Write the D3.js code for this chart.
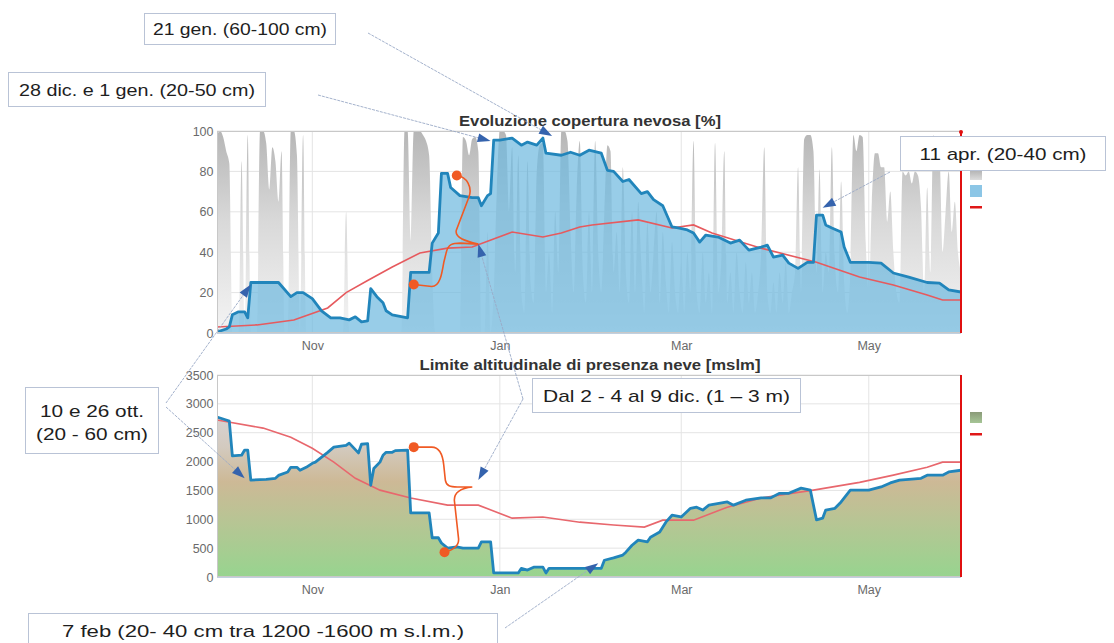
<!DOCTYPE html>
<html>
<head>
<meta charset="utf-8">
<script src="https://cdn.jsdelivr.net/npm/d3@7"></script>
<style>
  body { margin: 0; background: #fff; }
  svg { display: block; font-family: "Liberation Sans", Arial, sans-serif; }
</style>
</head>
<body>
<svg id="chart" width="1114" height="643"></svg>
<script>
// ---- Season 2017/18 data (dates as MM-DD; Oct-Dec = 2017, Jan-May = 2018) ----
const monthTicks = ["11-01", "01-01", "03-01", "05-01"];
const coverTicks = [0, 20, 40, 60, 80, 100];
const altTicks = [0, 500, 1000, 1500, 2000, 2500, 3000, 3500];
const panelTitles = ["Evoluzione copertura nevosa [%]", "Limite altitudinale di presenza neve [mslm]"];

// cloud cover [%]
const cloudCover = [
  ["10-01",98],["10-02",100],["10-03",97],["10-04",90],["10-05",84],["10-06",0],["10-07",0],["10-08",0],
  ["10-09",85],["10-10",0],["10-11",98],["10-12",0],["10-13",0],["10-14",0],["10-15",100],["10-16",100],
  ["10-17",94],["10-18",71],["10-19",92],["10-20",85],["10-21",65],["10-22",90],["10-23",0],["10-24",0],
  ["10-25",100],["10-26",100],["10-27",88],["10-28",0],["10-29",98],["10-30",0],["11-10",0],["11-11",0],
  ["11-12",60],["11-13",0],["11-30",0],["12-01",100],["12-02",100],["12-03",45],["12-04",100],["12-05",100],
  ["12-06",100],["12-07",98],["12-08",95],["12-09",88],["12-10",30],["12-11",0],["12-19",0],["12-20",97],
  ["12-21",95],["12-22",88],["12-23",96],["12-24",97],["12-25",90],["12-26",0],["12-27",0],["12-28",50],
  ["12-29",0],["12-30",20],["12-31",70],["01-01",100],["01-02",100],["01-03",98],["01-04",60],["01-05",92],
  ["01-06",30],["01-07",88],["01-08",20],["01-09",10],["01-10",85],["01-11",25],["01-12",15],["01-13",80],
  ["01-14",93],["01-15",94],["01-16",20],["01-17",40],["01-18",10],["01-19",60],["01-20",30],["01-21",100],
  ["01-22",100],["01-23",95],["01-24",50],["01-25",20],["01-26",70],["01-27",95],["01-28",30],["01-29",15],
  ["01-30",60],["01-31",20],["02-01",95],["02-02",40],["02-03",20],["02-04",60],["02-05",93],["02-06",90],
  ["02-07",30],["02-08",50],["02-09",20],["02-10",82],["02-11",30],["02-12",15],["02-13",60],["02-14",20],
  ["02-15",65],["02-16",35],["02-17",10],["02-18",55],["02-19",20],["02-20",40],["02-21",60],["02-22",15],
  ["02-23",50],["02-24",25],["02-25",10],["02-26",45],["02-27",20],["02-28",10],["03-01",35],["03-02",10],
  ["03-03",40],["03-04",20],["03-05",95],["03-06",20],["03-07",10],["03-08",40],["03-09",15],["03-10",30],
  ["03-11",10],["03-12",94],["03-13",20],["03-14",35],["03-15",90],["03-16",15],["03-17",30],["03-18",10],
  ["03-19",40],["03-20",20],["03-21",10],["03-22",35],["03-23",15],["03-24",30],["03-25",10],["03-26",20],
  ["03-27",40],["03-28",92],["03-29",20],["03-30",10],["03-31",25],["04-01",10],["04-02",30],["04-03",15],
  ["04-04",35],["04-05",10],["04-06",20],["04-07",30],["04-08",82],["04-09",20],["04-10",96],["04-11",98],
  ["04-12",98],["04-13",90],["04-14",30],["04-15",81],["04-16",20],["04-17",40],["04-18",30],["04-19",92],
  ["04-20",35],["04-21",20],["04-22",75],["04-23",25],["04-24",10],["04-25",30],["04-26",98],["04-27",90],
  ["04-28",98],["04-29",97],["04-30",45],["05-01",20],["05-02",65],["05-03",89],["05-04",89],["05-05",82],
  ["05-06",82],["05-07",55],["05-08",70],["05-09",40],["05-10",20],["05-11",15],["05-12",80],["05-13",78],
  ["05-14",80],["05-15",74],["05-16",80],["05-17",78],["05-18",62],["05-19",20],["05-20",72],["05-21",30],
  ["05-22",98],["05-23",87],["05-24",87],["05-25",40],["05-26",60],["05-27",80],["05-28",50],["05-29",65],
  ["05-30",40],["05-31",30]
];

// snow-covered area [%]
const snowCover = [
  ["10-01",0.5],["10-04",2],["10-05",3],["10-06",9],["10-08",10.5],["10-10",10.5],["10-11",7.5],["10-12",25],
  ["10-21",25],["10-25",18],["10-27",20],["10-29",20],["11-01",17],["11-04",11],["11-07",7.5],["11-10",7.5],
  ["11-13",6.5],["11-15",8],["11-17",5.5],["11-19",6],["11-20",22],["11-22",18],["11-24",15],["11-25",11],
  ["11-27",9],["12-02",7.5],["12-03",30],["12-09",30],["12-10",44.5],["12-12",49.5],["12-13",79],["12-15",79],
  ["12-16",72],["12-19",68],["12-23",67],["12-25",67],["12-26",63],["12-28",68],["12-29",69],["12-30",95.5],
  ["01-01",95.5],["01-05",96.5],["01-08",93],["01-10",94.5],["01-13",93],["01-15",96.5],["01-16",89],
  ["01-21",88],["01-24",89.5],["01-27",88],["01-30",90.5],["02-03",89],["02-05",80.5],["02-07",80],
  ["02-10",75],["02-12",76],["02-16",69],["02-18",70],["02-20",66],["02-23",63],["02-26",52.5],["02-28",52],
  ["03-03",51],["03-05",49.5],["03-07",45],["03-09",48.5],["03-13",47.5],["03-17",44.5],["03-20",46],
  ["03-23",41],["03-27",42.5],["03-29",43.5],["03-31",37.6],["04-03",38.6],["04-05",34.6],["04-08",32],
  ["04-11",35],["04-13",35],["04-14",58.4],["04-16",58.4],["04-17",53.5],["04-19",52],["04-22",50],
  ["04-23",42.6],["04-25",35],["05-01",35],["05-05",34.6],["05-09",29.7],["05-14",27.7],["05-20",25],
  ["05-24",24.7],["05-27",21.3],["05-31",20.3]
];

// long-term mean snow-covered area [%]
const snowCoverMean = [
  ["10-01",3],["10-14",4],["10-26",6.4],["11-06",12.4],["11-12",20],["11-19",26],["11-27",32.7],["12-06",39.6],
  ["12-15",42],["12-23",42.6],["01-05",50],["01-15",47.5],["01-21",49.5],["01-27",52.5],["01-31",53.5],
  ["02-15",56],["02-26",52],["03-05",53.5],["03-11",49.5],["03-27",42],["04-14",35],["04-28",27.7],
  ["05-09",23.8],["05-20",18.8],["05-25",16.3],["05-31",16.3]
];

// snow line altitude [m a.s.l.]
const snowLine = [
  ["10-01",2770],["10-04",2720],["10-05",2700],["10-06",2100],["10-09",2110],["10-10",2200],["10-11",2200],
  ["10-12",1680],["10-17",1690],["10-20",1710],["10-21",1760],["10-24",1820],["10-25",1900],["10-27",1900],
  ["10-28",1850],["10-30",1900],["11-01",1970],["11-02",1990],["11-06",2160],["11-08",2250],["11-12",2280],
  ["11-13",2320],["11-16",2150],["11-17",2300],["11-19",2310],["11-20",1590],["11-21",1880],["11-23",1990],
  ["11-24",2110],["11-25",2160],["11-27",2160],["11-28",2190],["12-02",2200],["12-03",1110],["12-09",1110],
  ["12-10",680],["12-12",680],["12-13",590],["12-15",500],["12-18",520],["12-20",500],["12-25",500],
  ["12-26",610],["12-29",610],["12-30",70],["01-07",70],["01-08",150],["01-10",120],["01-12",170],
  ["01-15",170],["01-16",70],["01-17",150],["01-27",150],["02-03",150],["02-04",290],["02-07",330],
  ["02-10",380],["02-11",430],["02-13",550],["02-15",640],["02-18",610],["02-19",690],["02-22",780],
  ["02-24",950],["02-26",1070],["03-01",1040],["03-04",1190],["03-06",1210],["03-08",1160],["03-10",1245],
  ["03-16",1300],["03-18",1245],["03-22",1330],["03-27",1370],["03-30",1370],["04-02",1450],["04-05",1450],
  ["04-09",1540],["04-12",1505],["04-14",990],["04-16",1020],["04-17",1160],["04-20",1190],["04-22",1300],
  ["04-25",1505],["05-01",1505],["05-05",1560],["05-08",1630],["05-11",1680],["05-18",1710],["05-20",1765],
  ["05-25",1765],["05-27",1820],["05-31",1850]
];

// long-term mean snow line altitude [m a.s.l.]
const snowLineMean = [
  ["10-01",2720],["10-16",2580],["10-25",2420],["11-01",2230],["11-08",1990],["11-15",1710],["11-23",1505],
  ["12-03",1370],["12-15",1245],["12-25",1245],["01-05",1020],["01-15",1040],["01-27",950],["02-07",900],
  ["02-17",865],["02-23",985],["03-05",985],["03-16",1210],["03-27",1370],["04-13",1505],["04-28",1640],
  ["05-09",1765],["05-20",1900],["05-25",1990],["05-31",1990]
];

// event notes: text lines and the point each arrow points at [date, value, panel]
const noteTexts = [
  ["21 gen. (60-100 cm)"],
  ["28 dic. e 1 gen. (20-50 cm)"],
  ["11 apr. (20-40 cm)"],
  ["10 e 26 ott.", "(20 - 60 cm)"],
  ["Dal 2 - 4 al 9 dic. (1 \u2013 3 m)"],
  ["7 feb (20- 40 cm tra 1200 -1600 m s.l.m.)"]
];
const noteTargets = [
  [["01-18", 97.5, 0]],
  [["12-29", 95, 0]],
  [["04-16", 62, 0]],
  [["10-12", 24, 0], ["10-10", 1710, 1]],
  [["12-25", 44, 0], ["12-25", 1680, 1]],
  [["02-02", 240, 1]]
];
// ends of the bracketed 2-9 Dec event [date, value] per panel
const braceEnds = [
  [["12-04", 24], ["12-18", 78]],
  [["12-04", 2250], ["12-14", 430]]
];

// ---- helpers ----
const parseDay = s => {
  const [m, d] = s.split("-").map(Number);
  return new Date(m >= 9 ? 2017 : 2018, m - 1, d);
};

const svg = d3.select("#chart");
const defs = svg.append("defs");

const plotL = 217, plotR = 961;
const panels = [
  { top: 131, bottom: 333, domain: [0, 100], ticks: coverTicks, titleY: 126, titleW: 262 },
  { top: 375, bottom: 577, domain: [0, 3500], ticks: altTicks, titleY: 370, titleW: 341 }
];

const x = d3.scaleTime()
  .domain([new Date(2017, 9, 1), new Date(2018, 4, 31)])
  .range([plotL, plotR]);

panels.forEach(p => {
  p.y = d3.scaleLinear().domain(p.domain).range([p.bottom, p.top]);
});

// gradients
const gGray = defs.append("linearGradient").attr("id", "cloudFill")
  .attr("gradientUnits", "userSpaceOnUse").attr("x1", 0).attr("x2", 0)
  .attr("y1", panels[0].top).attr("y2", panels[0].bottom);
gGray.append("stop").attr("offset", 0).attr("stop-color", "#b6b6b6");
gGray.append("stop").attr("offset", 0.45).attr("stop-color", "#d9d9d9");
gGray.append("stop").attr("offset", 1).attr("stop-color", "#f4f4f4");

const yA = panels[1].y;
const gAlt = defs.append("linearGradient").attr("id", "altFill")
  .attr("gradientUnits", "userSpaceOnUse").attr("x1", 0).attr("x2", 0)
  .attr("y1", yA(3000)).attr("y2", yA(0));
[[0, "#d9d6da"], [0.25, "#d3cabf"], [0.45, "#cdb996"], [0.68, "#b7c594"], [1, "#97d48f"]]
  .forEach(([o, c]) => gAlt.append("stop").attr("offset", o).attr("stop-color", c));

const gLegGray = defs.append("linearGradient").attr("id", "legGray").attr("x1", 0).attr("x2", 0).attr("y1", 0).attr("y2", 1);
gLegGray.append("stop").attr("offset", 0).attr("stop-color", "#a9a9a9");
gLegGray.append("stop").attr("offset", 1).attr("stop-color", "#dcdcdc");
const gLegAlt = defs.append("linearGradient").attr("id", "legAlt").attr("x1", 0).attr("x2", 0).attr("y1", 0).attr("y2", 1);
gLegAlt.append("stop").attr("offset", 0).attr("stop-color", "#8a9a78");
gLegAlt.append("stop").attr("offset", 1).attr("stop-color", "#a6c596");

panels.forEach((p, i) => {
  defs.append("clipPath").attr("id", "clip" + i)
    .append("rect").attr("x", plotL).attr("y", p.top).attr("width", plotR - plotL).attr("height", p.bottom - p.top);
});

const axisFont = sel => sel.attr("fill", "#6a6a6a").style("font-size", "12.5px")
  .style("font-family", "'Liberation Sans', Arial, sans-serif");

// ---- panel frames, grid and axes ----
panels.forEach((p, i) => {
  const g = svg.append("g");
  // horizontal grid
  g.append("g").selectAll("line").data(p.ticks).join("line")
    .attr("x1", plotL).attr("x2", plotR)
    .attr("y1", d => p.y(d)).attr("y2", d => p.y(d))
    .attr("stroke", "#e4e4e4").attr("stroke-width", 1);
  // vertical grid at month ticks
  g.append("g").selectAll("line").data(monthTicks).join("line")
    .attr("x1", d => x(parseDay(d))).attr("x2", d => x(parseDay(d)))
    .attr("y1", p.top).attr("y2", p.bottom)
    .attr("stroke", "#e4e4e4").attr("stroke-width", 1);

  // y axis labels
  const yAxis = d3.axisLeft(p.y).tickValues(p.ticks).tickFormat(d3.format("d")).tickSize(0).tickPadding(3);
  const ya = svg.append("g").attr("transform", `translate(${plotL - 0.5},0)`).call(yAxis);
  ya.select(".domain").remove();
  ya.selectAll("text").call(axisFont);

  // x axis labels
  const xAxis = d3.axisBottom(x).tickValues(monthTicks.map(parseDay))
    .tickFormat(d3.timeFormat("%b")).tickSize(0).tickPadding(8);
  const xa = svg.append("g").attr("transform", `translate(0,${p.bottom})`).call(xAxis);
  xa.select(".domain").remove();
  xa.selectAll("text").call(axisFont);

  // title
  svg.append("text").attr("x", 590).attr("y", p.titleY).attr("text-anchor", "middle")
    .attr("fill", "#333").style("font-size", "15px").style("font-weight", "bold")
    .attr("textLength", p.titleW).attr("lengthAdjust", "spacingAndGlyphs")
    .text(panelTitles[i]);
});

// ---- top panel: cloud cover, snow cover and mean ----
const p0 = panels[0];
const coverLayer = svg.append("g").attr("clip-path", "url(#clip0)");

coverLayer.append("path").datum(cloudCover)
  .attr("d", d3.area().curve(d3.curveMonotoneX)
    .x(d => x(parseDay(d[0]))).y0(p0.y(0)).y1(d => p0.y(d[1])))
  .attr("fill", "url(#cloudFill)");

coverLayer.append("path").datum(snowCover)
  .attr("d", d3.area().x(d => x(parseDay(d[0]))).y0(p0.y(0)).y1(d => p0.y(d[1])))
  .attr("fill", "rgb(108,184,222)").attr("fill-opacity", 0.7);

coverLayer.append("path").datum(snowCoverMean)
  .attr("d", d3.line().x(d => x(parseDay(d[0]))).y(d => p0.y(d[1])))
  .attr("fill", "none").attr("stroke", "#e65a5e").attr("stroke-width", 1.6);

coverLayer.append("path").datum(snowCover)
  .attr("d", d3.line().x(d => x(parseDay(d[0]))).y(d => p0.y(d[1])))
  .attr("fill", "none").attr("stroke", "#2185bb").attr("stroke-width", 2.8)
  .attr("stroke-linejoin", "round");

// ---- bottom panel: snow line and mean ----
const p1 = panels[1];
const altLayer = svg.append("g").attr("clip-path", "url(#clip1)");

altLayer.append("path").datum(snowLine)
  .attr("d", d3.area().x(d => x(parseDay(d[0]))).y0(p1.y(0)).y1(d => p1.y(d[1])))
  .attr("fill", "url(#altFill)");

altLayer.append("path").datum(snowLineMean)
  .attr("d", d3.line().x(d => x(parseDay(d[0]))).y(d => p1.y(d[1])))
  .attr("fill", "none").attr("stroke", "#e8676d").attr("stroke-width", 1.6);

altLayer.append("path").datum(snowLine)
  .attr("d", d3.line().x(d => x(parseDay(d[0]))).y(d => p1.y(d[1])))
  .attr("fill", "none").attr("stroke", "#2185bb").attr("stroke-width", 2.8)
  .attr("stroke-linejoin", "round");

// ---- frames and end-of-season marker ----
panels.forEach(p => {
  svg.append("rect").attr("x", plotL + 0.5).attr("y", p.top + 0.5)
    .attr("width", plotR - plotL - 1).attr("height", p.bottom - p.top - 1)
    .attr("fill", "none").attr("stroke", "#c8c8c8").attr("stroke-width", 1);
  svg.append("line").attr("x1", plotL).attr("x2", plotR)
    .attr("y1", p.bottom + 0.5).attr("y2", p.bottom + 0.5)
    .attr("stroke", "#c0d0e0").attr("stroke-width", 1);
  const xe = x(new Date(2018, 4, 31));
  svg.append("line").attr("x1", xe).attr("x2", xe).attr("y1", p.top).attr("y2", p.bottom)
    .attr("stroke", "#e01010").attr("stroke-width", 2);
});
svg.append("circle").attr("cx", x(new Date(2018, 4, 31))).attr("cy", p0.top + 1).attr("r", 2).attr("fill", "#e01010");

// ---- legend symbols ----
const legX = 970;
svg.append("rect").attr("x", legX).attr("y", 168).attr("width", 12).attr("height", 12).attr("fill", "url(#legGray)");
svg.append("rect").attr("x", legX).attr("y", 185).attr("width", 12).attr("height", 12).attr("fill", "#8cc6e6");
svg.append("rect").attr("x", legX).attr("y", 206).attr("width", 12).attr("height", 2.5).attr("fill", "#e01818");
svg.append("rect").attr("x", legX).attr("y", 412).attr("width", 12).attr("height", 11).attr("fill", "url(#legAlt)");
svg.append("rect").attr("x", legX).attr("y", 433).attr("width", 12).attr("height", 2.5).attr("fill", "#e01818");

// ---- 2-9 Dec braces ----
const orange = "#f05a24";
const pt = (d, p) => [x(parseDay(d[0])), panels[p].y(d[1])];
{
  const A = pt(braceEnds[0][0], 0), B = pt(braceEnds[0][1], 0), T = pt(noteTargets[4][0], 0);
  const lower = `M${A[0]},${A[1]} L${A[0]+18},${A[1]+2} C${A[0]+26},${A[1]+2} ${A[0]+28},${A[1]-10} ${A[0]+30},${A[1]-22}` +
    ` L${T[0]-32},${T[1]+8} C${T[0]-30},${T[1]} ${T[0]-26},${T[1]-1} ${T[0]-18},${T[1]-1} L${T[0]},${T[1]}`;
  const upper = `M${T[0]},${T[1]} C${T[0]-12},${T[1]-3} ${T[0]-24},${T[1]-6} ${T[0]-22},${T[1]-14}` +
    ` L${B[0]+12},${B[1]+22} C${B[0]+16},${B[1]+12} ${B[0]+10},${B[1]+1} ${B[0]},${B[1]}`;
  svg.append("path").attr("d", lower + upper).attr("fill", "none").attr("stroke", orange).attr("stroke-width", 1.6);
  [A, B].forEach(c => svg.append("circle").attr("cx", c[0]).attr("cy", c[1]).attr("r", 5).attr("fill", orange));
}
{
  const A = pt(braceEnds[1][0], 1), B = pt(braceEnds[1][1], 1), T0 = pt(noteTargets[4][1], 1);
  const T = [T0[0] - 6, T0[1] + 7];
  const upper = `M${A[0]},${A[1]} L${A[0]+18},${A[1]} C${A[0]+26},${A[1]} ${A[0]+29},${A[1]+8} ${A[0]+30},${A[1]+18}` +
    ` L${T[0]-27},${T[1]-7} C${T[0]-26},${T[1]-1} ${T[0]-22},${T[1]} ${T[0]-15},${T[1]} L${T[0]},${T[1]}`;
  const lower = `M${T[0]},${T[1]} C${T[0]-10},${T[1]+1} ${T[0]-18},${T[1]+4} ${T[0]-18},${T[1]+13}` +
    ` L${B[0]+14},${B[1]-14} C${B[0]+15},${B[1]-6} ${B[0]+8},${B[1]-2} ${B[0]},${B[1]}`;
  svg.append("path").attr("d", upper + lower).attr("fill", "none").attr("stroke", orange).attr("stroke-width", 1.6);
  [A, B].forEach(c => svg.append("circle").attr("cx", c[0]).attr("cy", c[1]).attr("r", 5).attr("fill", orange));
}

// ---- notes: boxes, leader lines and arrowheads ----
const noteBoxes = [
  { x: 144, y: 13, w: 191, h: 31, base: [35], width: [174], from: [[368, 33]] },
  { x: 8, y: 72, w: 257, h: 34, base: [96], width: [236], from: [[318, 95]] },
  { x: 900, y: 136, w: 205, h: 34, base: [160], width: [167], from: [[890, 172]] },
  { x: 25, y: 387, w: 133, h: 66, base: [417, 440], width: [104, 112], from: [[166, 403], [166, 407]] },
  { x: 532, y: 378, w: 268, h: 34, base: [402], width: [247], from: [[523, 399], [523, 399]] },
  { x: 28, y: 613, w: 469, h: 40, base: [637], width: [402], from: [[505, 628]] }
];

const leaders = svg.append("g");
noteBoxes.forEach((b, i) => {
  noteTargets[i].forEach((t, k) => {
    const tip = pt(t, t[2]);
    const f = b.from[k];
    const dx = tip[0] - f[0], dy = tip[1] - f[1];
    const len = Math.hypot(dx, dy), ux = dx / len, uy = dy / len;
    const L = 13, W = 9;
    leaders.append("line").attr("x1", f[0]).attr("y1", f[1])
      .attr("x2", tip[0] - ux * L * 0.6).attr("y2", tip[1] - uy * L * 0.6)
      .attr("stroke", "#9aa9c6").attr("stroke-width", 0.9).attr("stroke-dasharray", "3,1");
    const bx = tip[0] - ux * L, by = tip[1] - uy * L;
    leaders.append("path")
      .attr("d", `M${tip[0]},${tip[1]} L${bx - uy * W / 2},${by + ux * W / 2} L${bx + uy * W / 2},${by - ux * W / 2} Z`)
      .attr("fill", "#3563ad");
  });
});

noteBoxes.forEach((b, i) => {
  const g = svg.append("g");
  g.append("rect").attr("x", b.x + 0.5).attr("y", b.y + 0.5).attr("width", b.w).attr("height", b.h)
    .attr("fill", "#fff").attr("stroke", "#b9c3d6").attr("stroke-width", 1);
  noteTexts[i].forEach((line, k) => {
    g.append("text").attr("x", b.x + b.w / 2 + 0.5).attr("y", b.base[k]).attr("text-anchor", "middle")
      .attr("textLength", b.width[k]).attr("lengthAdjust", "spacingAndGlyphs")
      .attr("fill", "#1e1e1e").style("font-size", "17px")
      .text(line);
  });
});
</script>
</body>
</html>
